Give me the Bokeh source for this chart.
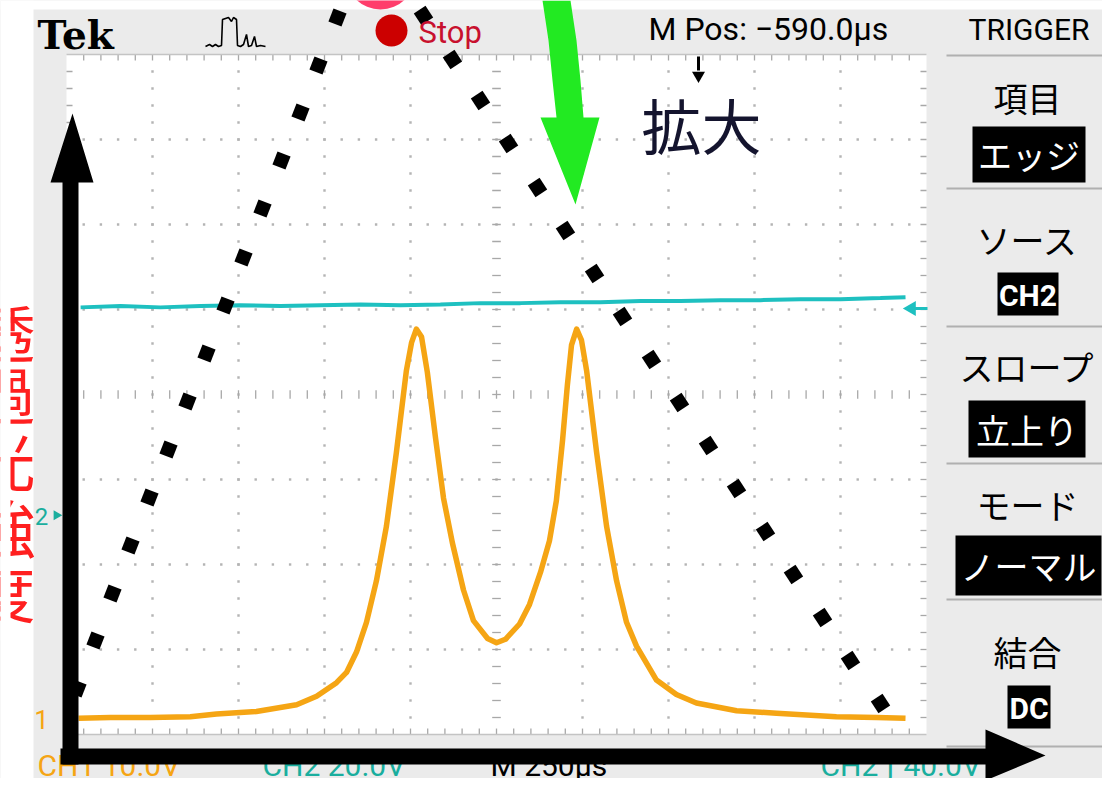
import math
from bokeh.plotting import figure
from bokeh.models import Range1d
from bokeh.core.properties import value
from bokeh.embed import file_html
from bokeh.resources import INLINE

# ---------------- values ----------------
TIME_PER_DIV_US = 250.0      # "M 250us"
CH1_VOLTS_PER_DIV = 10.0     # "CH1 10.0V"
CH2_VOLTS_PER_DIV = 20.0     # "CH2 20.0V"
CH1_GROUND_DIV = 0.19        # "1" marker height (divisions above screen bottom)
CH2_GROUND_DIV = 2.58        # "2" marker height

# CH1 (orange): transmitted intensity with two resonance peaks
ch1_time_us = [35, 128, 244, 360, 436, 552, 669, 727, 785, 814,
               843, 872, 901, 930, 959, 988, 1003, 1017, 1032, 1049,
               1073, 1096, 1122, 1154, 1183, 1224, 1250, 1276, 1317, 1346,
               1378, 1404, 1424, 1442, 1456, 1468, 1483, 1497, 1512, 1541,
               1570, 1599, 1628, 1657, 1715, 1773, 1831, 1948, 2064, 2238,
               2355, 2439]
ch1_volts = [0.0, 0.1, 0.1, 0.2, 0.5, 0.8, 1.6, 2.6, 4.2, 5.4,
             7.8, 11.3, 16.2, 22.6, 31.3, 40.9, 44.2, 45.8, 44.9, 40.7,
             32.9, 25.9, 20.6, 15.1, 11.5, 9.4, 8.9, 9.3, 11.1, 13.4,
             17.2, 20.9, 25.6, 32.7, 39.2, 43.9, 45.8, 44.5, 40.9, 31.3,
             22.6, 16.2, 11.3, 8.5, 4.5, 2.8, 1.8, 0.9, 0.6, 0.2,
             0.1, 0.0]

# CH2 (cyan): nearly flat ramp level
ch2_time_us = [41, 157, 273, 390, 506, 622, 738, 855, 971, 1087, 1203,
               1320, 1436, 1552, 1669, 1785, 1901, 2017, 2134, 2250, 2366, 2439]
ch2_volts = [48.9, 49.2, 48.9, 49.2, 49.4, 49.2, 49.4, 49.6, 49.4, 49.6, 49.9,
             49.9, 50.1, 50.1, 50.4, 50.4, 50.6, 50.6, 50.8, 50.8, 51.1, 51.3]

# hand-drawn dotted envelope (screen divisions)
envelope_left_x = [3.151, 2.930, 2.721, 2.500, 2.279, 2.058, 1.849, 1.628,
                   1.407, 1.186, 0.965, 0.744, 0.535, 0.337, 0.128]
envelope_left_y = [8.435, 7.871, 7.318, 6.753, 6.188, 5.612, 5.047, 4.482,
                   3.918, 3.353, 2.788, 2.224, 1.659, 1.106, 0.541]
envelope_right_x = [4.151, 4.488, 4.814, 5.140, 5.477, 5.802, 6.140, 6.465, 6.802,
                    7.128, 7.465, 7.791, 8.128, 8.453, 8.791, 9.116, 9.465]
envelope_right_y = [8.459, 7.941, 7.459, 6.953, 6.435, 5.929, 5.424, 4.918, 4.412,
                    3.906, 3.400, 2.894, 2.388, 1.882, 1.376, 0.871, 0.365]

bottom_labels = ["CH1 10.0V", "CH2 20.0V", "M 250\u03bcs", "CH2 \u0192 40.0V"]
menu_titles = ["項目", "ソース", "スロープ", "モード", "結合"]
menu_values = ["エッジ", "CH2", "立上り", "ノーマル", "DC"]
y_label_chars = ["透", "過", "光", "強", "度"]
x_label = "共振器長"
zoom_label = "拡大"

# ---------------- layout (picture pixels) ----------------
W, H = 1102, 778
SCR_L, SCR_R, SCR_T, SCR_B = 66, 926, 54, 734
DX = (SCR_R - SCR_L) / 10.0
DY = (SCR_B - SCR_T) / 8.0


def X(px):
    return (px - SCR_L) / DX


def Y(py):
    return (SCR_B - py) / DY


BEZEL = "#ebebeb"
ORANGE = "#f5a514"
CYAN = "#1ec0c0"
TEAL = "#1aae9e"
RED = "#ff1f1f"
GRID = "#b4b4b4"
JP = "Noto Sans CJK JP"

p = figure(width=W, height=H, output_backend="svg", toolbar_location=None,
           x_range=Range1d(X(0), X(W)), y_range=Range1d(Y(H), Y(0)),
           x_axis_type=None, y_axis_type=None, min_border=0)
p.outline_line_color = None
p.background_fill_color = BEZEL
p.border_fill_color = BEZEL
p.grid.visible = False


def txt(px, py, s, size, color="black", font="Roboto", style="normal", align="left"):
    p.text(x=[X(px)], y=[Y(py)], text=[s], text_font=value(font),
           text_font_size=value(f"{size}px"), text_color=color,
           text_font_style=style, text_align=align, text_baseline="middle")


def box(l, r, t, b, color="black"):
    p.quad(left=[X(l)], right=[X(r)], top=[Y(t)], bottom=[Y(b)],
           fill_color=color, line_color=None)


# white strips (left side and top edge)
box(0, 33, 0, H, "white")
box(0, W, 0, 9, "white")
p.scatter([X(380)], [Y(-26)], marker="circle", size=70, fill_color="#ff3d6b", line_color=None)
# graticule screen
p.quad(left=[0], right=[10], bottom=[0], top=[8], fill_color="white", line_color=None)

# dotted grid
gx, gy = [], []
for k in range(1, 10):
    if k == 5:
        continue
    for j in range(1, 40):
        gx.append(k)
        gy.append(j / 5)
for k in range(1, 8):
    if k == 4:
        continue
    for j in range(1, 50):
        gx.append(j / 5)
        gy.append(k)
p.scatter(gx, gy, marker="square", size=2.4, fill_color=GRID, line_color=None)

# centre cross ticks and edge rulers
tk = 0.05
x0, y0, x1, y1 = [], [], [], []
for j in range(1, 40):
    x0 += [5 - tk, 0, 10]
    x1 += [5 + tk, 0.07, 9.93]
    y0 += [j / 5, j / 5, j / 5]
    y1 += [j / 5, j / 5, j / 5]
for j in range(1, 50):
    x0 += [j / 5, j / 5, j / 5]
    x1 += [j / 5, j / 5, j / 5]
    y0 += [4 - tk, 8, 0]
    y1 += [4 + tk, 7.93, 0.07]
p.segment(x0, y0, x1, y1, line_color="#a8a8a8", line_width=1.3)
p.segment([0, 0], [8, 0], [10, 10], [8, 0], line_color="#c4c4c4", line_width=1.5)

# traces
ch1_x = [t / TIME_PER_DIV_US for t in ch1_time_us]
ch1_y = [v / CH1_VOLTS_PER_DIV + CH1_GROUND_DIV for v in ch1_volts]
ch2_x = [t / TIME_PER_DIV_US for t in ch2_time_us]
ch2_y = [v / CH2_VOLTS_PER_DIV + CH2_GROUND_DIV for v in ch2_volts]
p.line(ch2_x, ch2_y, line_color=CYAN, line_width=4)
p.line(ch1_x, ch1_y, line_color=ORANGE, line_width=5.5, line_join="round")

# channel / trigger markers
txt(41, 516, "2", 24, TEAL, align="center")
p.scatter([X(56)], [CH2_GROUND_DIV], marker="triangle", size=10, angle=-math.pi / 2,
          fill_color=TEAL, line_color=None)
txt(41, 719, "1", 26, ORANGE, align="center")
p.scatter([X(911)], [Y(308)], marker="triangle", size=15, angle=math.pi / 2,
          fill_color=CYAN, line_color=None)
p.segment([X(914)], [Y(308)], [X(927)], [Y(308)], line_color=CYAN, line_width=3)
p.segment([X(698)], [Y(56)], [X(698)], [Y(70)], line_color="black", line_width=3)
p.scatter([X(698)], [Y(75)], marker="triangle", size=13, angle=math.pi,
          fill_color="black", line_color=None)

# dotted envelope
p.scatter(envelope_left_x, envelope_left_y, marker="square", size=14, angle=-0.37,
          fill_color="black", line_color=None)
p.scatter(envelope_right_x, envelope_right_y, marker="square", size=14, angle=0.58,
          fill_color="black", line_color=None)

# top bar
txt(37, 34, "Tek", 39, "black", font="DejaVu Serif", style="bold")
icon = [(205, 46), (209, 44), (212, 46), (215, 44), (218, 46), (221, 45), (222, 19),
        (228, 17), (231, 21), (233, 17), (236, 19), (237, 45), (240, 46), (243, 44),
        (246, 34), (248, 46), (251, 45), (254, 36), (256, 46), (260, 45), (265, 46)]
p.line([X(a) for a, b in icon], [Y(b) for a, b in icon], line_color="black", line_width=1.6)
p.scatter([X(391)], [Y(30)], marker="circle", size=32, fill_color="#cc0000", line_color=None)
txt(418, 32, "Stop", 31, "#c8102e")
txt(648, 28, "M Pos: \u2212590.0\u03bcs", 32, "black")
txt(968, 29, "TRIGGER", 30, "black")

# right menu
sep_y = [55, 188, 326, 463, 599, 746]
p.segment([X(946)] * 6, [Y(v) for v in sep_y], [X(1102)] * 6, [Y(v) for v in sep_y],
          line_color="#b0b0b0", line_width=2)
title_y = [97, 239, 366, 504, 651]
boxes = [(972, 1085, 126, 182), (997, 1058, 272, 315), (968, 1085, 400, 457),
         (955, 1101, 535, 595), (1007, 1050, 685, 728)]
for t, v, ty, (l, r, bt, bb) in zip(menu_titles, menu_values, title_y, boxes):
    txt(1027, ty, t, 34, "black", font=JP, align="center")
    box(l, r, bt, bb)
    if v.isascii():
        txt((l + r) / 2, (bt + bb) / 2 + 1, v, 30, "white", style="bold", align="center")
    else:
        txt((l + r) / 2, (bt + bb) / 2, v, 34, "white", font=JP, align="center")

# bottom status line
for s, xp, c in zip(bottom_labels, [37, 262, 490, 820], [ORANGE, TEAL, "black", TEAL]):
    txt(xp, 765, s, 30, c)

# annotation text
txt(701, 123, zoom_label, 60, "#14142e", font=JP, align="center")
for ch, yc in zip(y_label_chars, [330, 392, 458, 525, 590]):
    txt(4, yc, ch, 62, RED, font=JP, align="center")
box(0, 10, 280, 640, "white")
txt(90, 803, x_label, 62, RED, font=JP)

# black axis arrows
up = [(62, 764), (78, 764), (78, 182), (93, 182), (72, 113), (50, 182), (62, 182)]
p.patch([X(a) for a, b in up], [Y(b) for a, b in up], fill_color="black", line_color=None)
right = [(60, 748), (985, 748), (985, 729), (1045, 755), (985, 780), (985, 764), (60, 764)]
p.patch([X(a) for a, b in right], [Y(b) for a, b in right], fill_color="black", line_color=None)

# green zoom arrow
green = [(542, 0), (548, 40), (552, 80), (556, 117), (540, 117), (575, 204),
         (599, 117), (583, 117), (580, 80), (576, 40), (570, 0)]
p.patch([X(a) for a, b in green], [Y(b) for a, b in green], fill_color="#22ea22", line_color=None)

open("out.html", "w").write(file_html(p, INLINE))
